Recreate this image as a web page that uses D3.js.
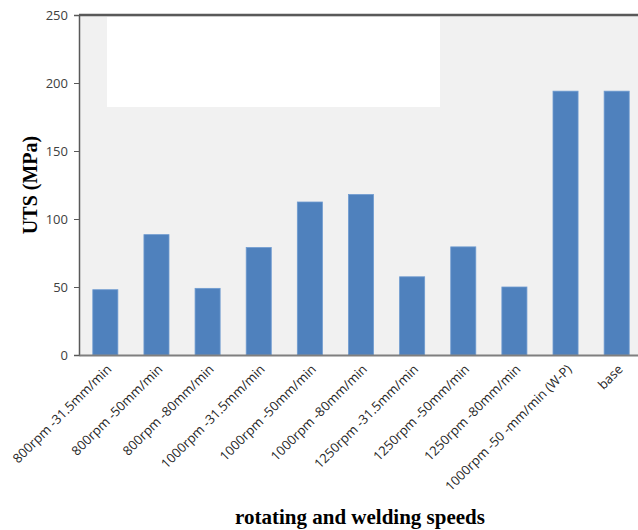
<!DOCTYPE html>
<html>
<head>
<meta charset="utf-8">
<script src="https://cdn.jsdelivr.net/npm/d3@7"></script>
<style>
  body { margin: 0; background: #fff; }
  svg { display: block; }
</style>
</head>
<body>
<div id="graphicContainer"></div>
<script>
// bar data
var categories = ["800rpm -31.5mm/min", "800rpm -50mm/min", "800rpm -80mm/min",
	"1000rpm -31.5mm/min", "1000rpm -50mm/min", "1000rpm -80mm/min",
	"1250rpm -31.5mm/min", "1250rpm -50mm/min", "1250rpm -80mm/min",
	"1000rpm -50 -mm/min (W-P)", "base"];
var uts = [48, 88.5, 49, 79, 112.5, 118, 57.5, 79.5, 50, 194, 194];
var yTicks = [0, 50, 100, 150, 200, 250];

var width = 638, height = 530;
var margin = {top: 15, right: 0, bottom: 175, left: 79};
var w = width - margin.left - margin.right,
	h = height - margin.top - margin.bottom;

var svg = d3.select("#graphicContainer").append("svg")
	.attr("width", width)
	.attr("height", height);

var g = svg.append("g").attr("transform", "translate(" + margin.left + "," + margin.top + ")");

var x = d3.scaleBand()
	.domain(categories)
	.range([0, 564])
	.paddingInner(0.51)
	.paddingOuter(0.27);

var y = d3.scaleLinear()
	.domain([0, 250])
	.range([h, 0]);

// plot background
g.append("rect")
	.attr("width", w)
	.attr("height", h)
	.attr("fill", "#f1f1f1");

// blank legend box
g.append("rect")
	.attr("x", 28)
	.attr("y", 2)
	.attr("width", 333)
	.attr("height", 90)
	.attr("fill", "#ffffff");

// bars
g.selectAll(".bar")
	.data(uts)
	.enter().append("rect")
	.attr("class", "bar")
	.attr("x", (d, i) => x(categories[i]))
	.attr("y", d => y(d))
	.attr("width", x.bandwidth())
	.attr("height", d => h - y(d))
	.attr("fill", "#4f81bd")
	.attr("stroke", "#6f9bd0")
	.attr("stroke-width", 0.8);

// y axis
var yAxis = g.append("g")
	.call(d3.axisLeft(y).tickValues(yTicks).tickSize(5).tickPadding(6));
yAxis.select(".domain").attr("stroke", "#595959").attr("stroke-width", 1.5);
yAxis.selectAll(".tick line").attr("stroke", "#595959");
yAxis.selectAll("text")
	.attr("fill", "#404040")
	.style("font-family", "'Open Sans', sans-serif")
	.style("font-size", "13px");

// top border
g.append("line")
	.attr("x1", 0).attr("x2", w)
	.attr("y1", 0).attr("y2", 0)
	.attr("stroke", "#595959")
	.attr("stroke-width", 2.5);

// x axis
var xAxis = g.append("g")
	.attr("transform", "translate(0," + h + ")")
	.call(d3.axisBottom(x).tickSize(0).tickPadding(0));
xAxis.select(".domain").attr("stroke", "#7f7f7f").attr("stroke-width", 2);
xAxis.selectAll("text")
	.attr("fill", "#262626")
	.style("font-family", "'Open Sans', sans-serif")
	.style("font-size", "13px")
	.attr("text-anchor", "end")
	.attr("dy", null)
	.attr("transform", "translate(7,15) rotate(-45)");

// axis titles
svg.append("text")
	.attr("transform", "translate(37," + (margin.top + h / 2) + ") rotate(-90)")
	.attr("text-anchor", "middle")
	.style("font-family", "'Liberation Serif', 'DejaVu Serif', serif")
	.style("font-weight", "bold")
	.style("font-size", "20px")
	.text("UTS (MPa)");

svg.append("text")
	.attr("x", 360)
	.attr("y", 524)
	.attr("text-anchor", "middle")
	.style("font-family", "'Liberation Serif', 'DejaVu Serif', serif")
	.style("font-weight", "bold")
	.style("font-size", "21px")
	.text("rotating and welding speeds");
</script>
</body>
</html>
